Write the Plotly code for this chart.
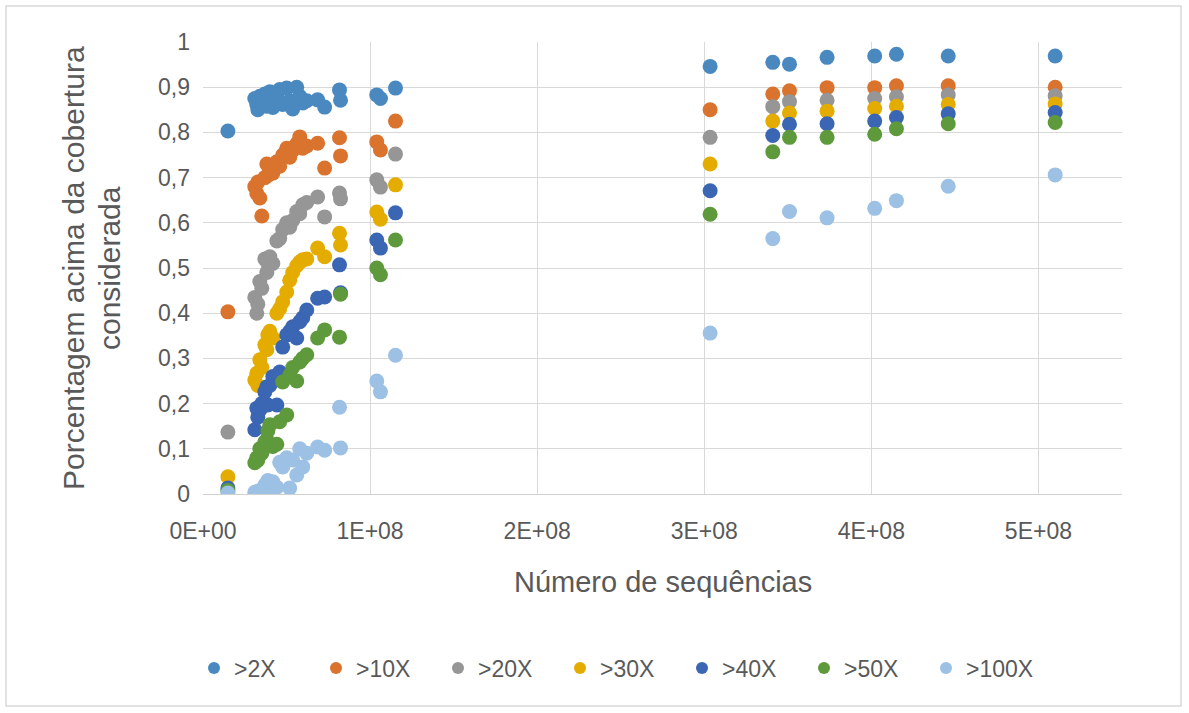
import plotly.graph_objects as go

# Number of sequences per sample (x), in units of 1e6
seqs_m = [14.9,
          31.0, 32.2, 32.8, 34.0, 35.2, 37.0, 38.2, 38.8, 40.0, 41.8, 44.2, 45.9,
          47.7, 50.1, 51.9, 53.7, 56.1, 57.9, 59.7, 62.1, 68.6, 72.8, 81.7, 82.3,
          104.0, 106.2, 115.2,
          303.5, 341.0, 351.0, 373.5, 402.0, 415.0, 446.0, 510.0]

cov_2x = [0.803,
          0.875, 0.862, 0.850, 0.880, 0.868, 0.885, 0.858, 0.872, 0.890, 0.855, 0.878, 0.895,
          0.862, 0.898, 0.870, 0.852, 0.900, 0.880, 0.865, 0.870, 0.872, 0.856, 0.894, 0.871,
          0.883, 0.875, 0.898,
          0.946, 0.955, 0.951, 0.966, 0.969, 0.973, 0.969, 0.969]

cov_10x = [0.403,
           0.680, 0.665, 0.690, 0.655, 0.615, 0.700, 0.730, 0.705, 0.720, 0.710, 0.735, 0.725,
           0.750, 0.765, 0.745, 0.760, 0.775, 0.790, 0.765, 0.770, 0.776, 0.721, 0.788, 0.748,
           0.779, 0.761, 0.825,
           0.850, 0.885, 0.892, 0.899, 0.899, 0.903, 0.903, 0.900]

cov_20x = [0.137,
           0.435, 0.400, 0.420, 0.470, 0.455, 0.520, 0.490, 0.510, 0.525, 0.510, 0.560, 0.565,
           0.585, 0.600, 0.590, 0.605, 0.625, 0.620, 0.640, 0.645, 0.657, 0.613, 0.666, 0.653,
           0.695, 0.679, 0.752,
           0.789, 0.857, 0.868, 0.871, 0.875, 0.879, 0.883, 0.881]

cov_30x = [0.038,
           0.252, 0.267, 0.240, 0.297, 0.280, 0.330, 0.319, 0.352, 0.360, 0.345, 0.400, 0.410,
           0.425, 0.447, 0.473, 0.490, 0.505, 0.513, 0.518, 0.520, 0.544, 0.525, 0.577, 0.551,
           0.624, 0.608, 0.684,
           0.730, 0.825, 0.843, 0.847, 0.853, 0.858, 0.862, 0.863]

cov_40x = [0.013,
           0.142, 0.190, 0.170, 0.186, 0.200, 0.226, 0.237, 0.197, 0.240, 0.260, 0.197, 0.270,
           0.325, 0.352, 0.360, 0.370, 0.345, 0.381, 0.390, 0.407, 0.433, 0.436, 0.507, 0.445,
           0.562, 0.544, 0.622,
           0.671, 0.793, 0.818, 0.819, 0.825, 0.833, 0.841, 0.844]

cov_50x = [0.008,
           0.069, 0.080, 0.075, 0.100, 0.090, 0.115, 0.120, 0.140, 0.153, 0.105, 0.110, 0.160,
           0.248, 0.175, 0.263, 0.280, 0.250, 0.292, 0.300, 0.308, 0.345, 0.363, 0.347, 0.442,
           0.500, 0.485, 0.562,
           0.619, 0.757, 0.789, 0.789, 0.796, 0.808, 0.819, 0.822]

cov_100x = [0.002,
            0.004, 0.002, 0.006, 0.003, 0.010, 0.020, 0.008, 0.030, 0.025, 0.027, 0.015, 0.070,
            0.060, 0.080, 0.013, 0.075, 0.042, 0.100, 0.060, 0.090, 0.104, 0.097, 0.192, 0.102,
            0.250, 0.226, 0.307,
            0.356, 0.565, 0.625, 0.611, 0.632, 0.649, 0.681, 0.706]

series_names = [">2X", ">10X", ">20X", ">30X", ">40X", ">50X", ">100X"]
series_values = [cov_2x, cov_10x, cov_20x, cov_30x, cov_40x, cov_50x, cov_100x]
colors = ["#4a89c0", "#d9732d", "#969696", "#e5ac00", "#3b66b3", "#5e9a3c", "#9dc0e5"]

x_tick_vals = [0, 1e8, 2e8, 3e8, 4e8, 5e8]
x_tick_text = ["0E+00", "1E+08", "2E+08", "3E+08", "4E+08", "5E+08"]

x_values = [v * 1e6 for v in seqs_m]

FONT = "Liberation Sans, Arial, sans-serif"
GREY_TXT = "#595959"

fig = go.Figure()
for name, vals, col in zip(series_names, series_values, colors):
    fig.add_trace(go.Scatter(
        x=x_values, y=vals, mode="markers", name=name,
        marker=dict(size=15, color=col, line=dict(width=0)),
    ))

# plot area in pixels: left 203, right 1122, top 42, bottom 494
L, R, T, B = 203, 1122, 42, 494
W, H = R - L, B - T


def px(xp):
    return (xp - L) / W


def py(yp):
    return (B - yp) / H


fig.update_layout(
    width=1189, height=713,
    margin=dict(l=L, r=1189 - R, t=T, b=713 - B, autoexpand=False),
    paper_bgcolor="white", plot_bgcolor="white",
    separators=", ",
    font=dict(family=FONT, color=GREY_TXT, size=22),
    showlegend=True,
    legend=dict(orientation="h", x=px(194), xanchor="left", y=py(668), yanchor="middle",
                font=dict(size=23, color=GREY_TXT), itemsizing="constant",
                itemwidth=30, entrywidth=77, entrywidthmode="pixels",
                tracegroupgap=0, bgcolor="rgba(0,0,0,0)"),
    xaxis=dict(range=[0, 5.5e8], tickvals=x_tick_vals, ticktext=x_tick_text,
               showgrid=True, gridcolor="#d9d9d9", gridwidth=1.3,
               zeroline=False, showline=True, linecolor="#d0d0d0", linewidth=1.3,
               ticks="", ticklabelstandoff=16, tickfont=dict(size=23, color=GREY_TXT)),
    yaxis=dict(range=[0, 1], dtick=0.1, tickformat=".1~f",
               showgrid=True, gridcolor="#d9d9d9", gridwidth=1.3,
               zeroline=False, showline=False, ticks="", ticklabelstandoff=12,
               tickfont=dict(size=23, color=GREY_TXT)),
    shapes=[dict(type="rect", xref="paper", yref="paper",
                 x0=px(6), x1=px(1181), y0=py(706), y1=py(6),
                 line=dict(color="#d9d9d9", width=1.5), fillcolor="rgba(0,0,0,0)",
                 layer="below")],
    annotations=[
        dict(text="Número de sequências", xref="paper", yref="paper",
             x=px(663), y=py(582), xanchor="center", yanchor="middle", showarrow=False,
             font=dict(size=29, color=GREY_TXT)),
        dict(text="Porcentagem acima da cobertura", xref="paper", yref="paper",
             x=px(73), y=py(268), xanchor="center", yanchor="middle", showarrow=False,
             textangle=-90, font=dict(size=30, color=GREY_TXT)),
        dict(text="considerada", xref="paper", yref="paper",
             x=px(109), y=py(268), xanchor="center", yanchor="middle", showarrow=False,
             textangle=-90, font=dict(size=30, color=GREY_TXT)),
    ],
)

fig.write_html("out.html")
